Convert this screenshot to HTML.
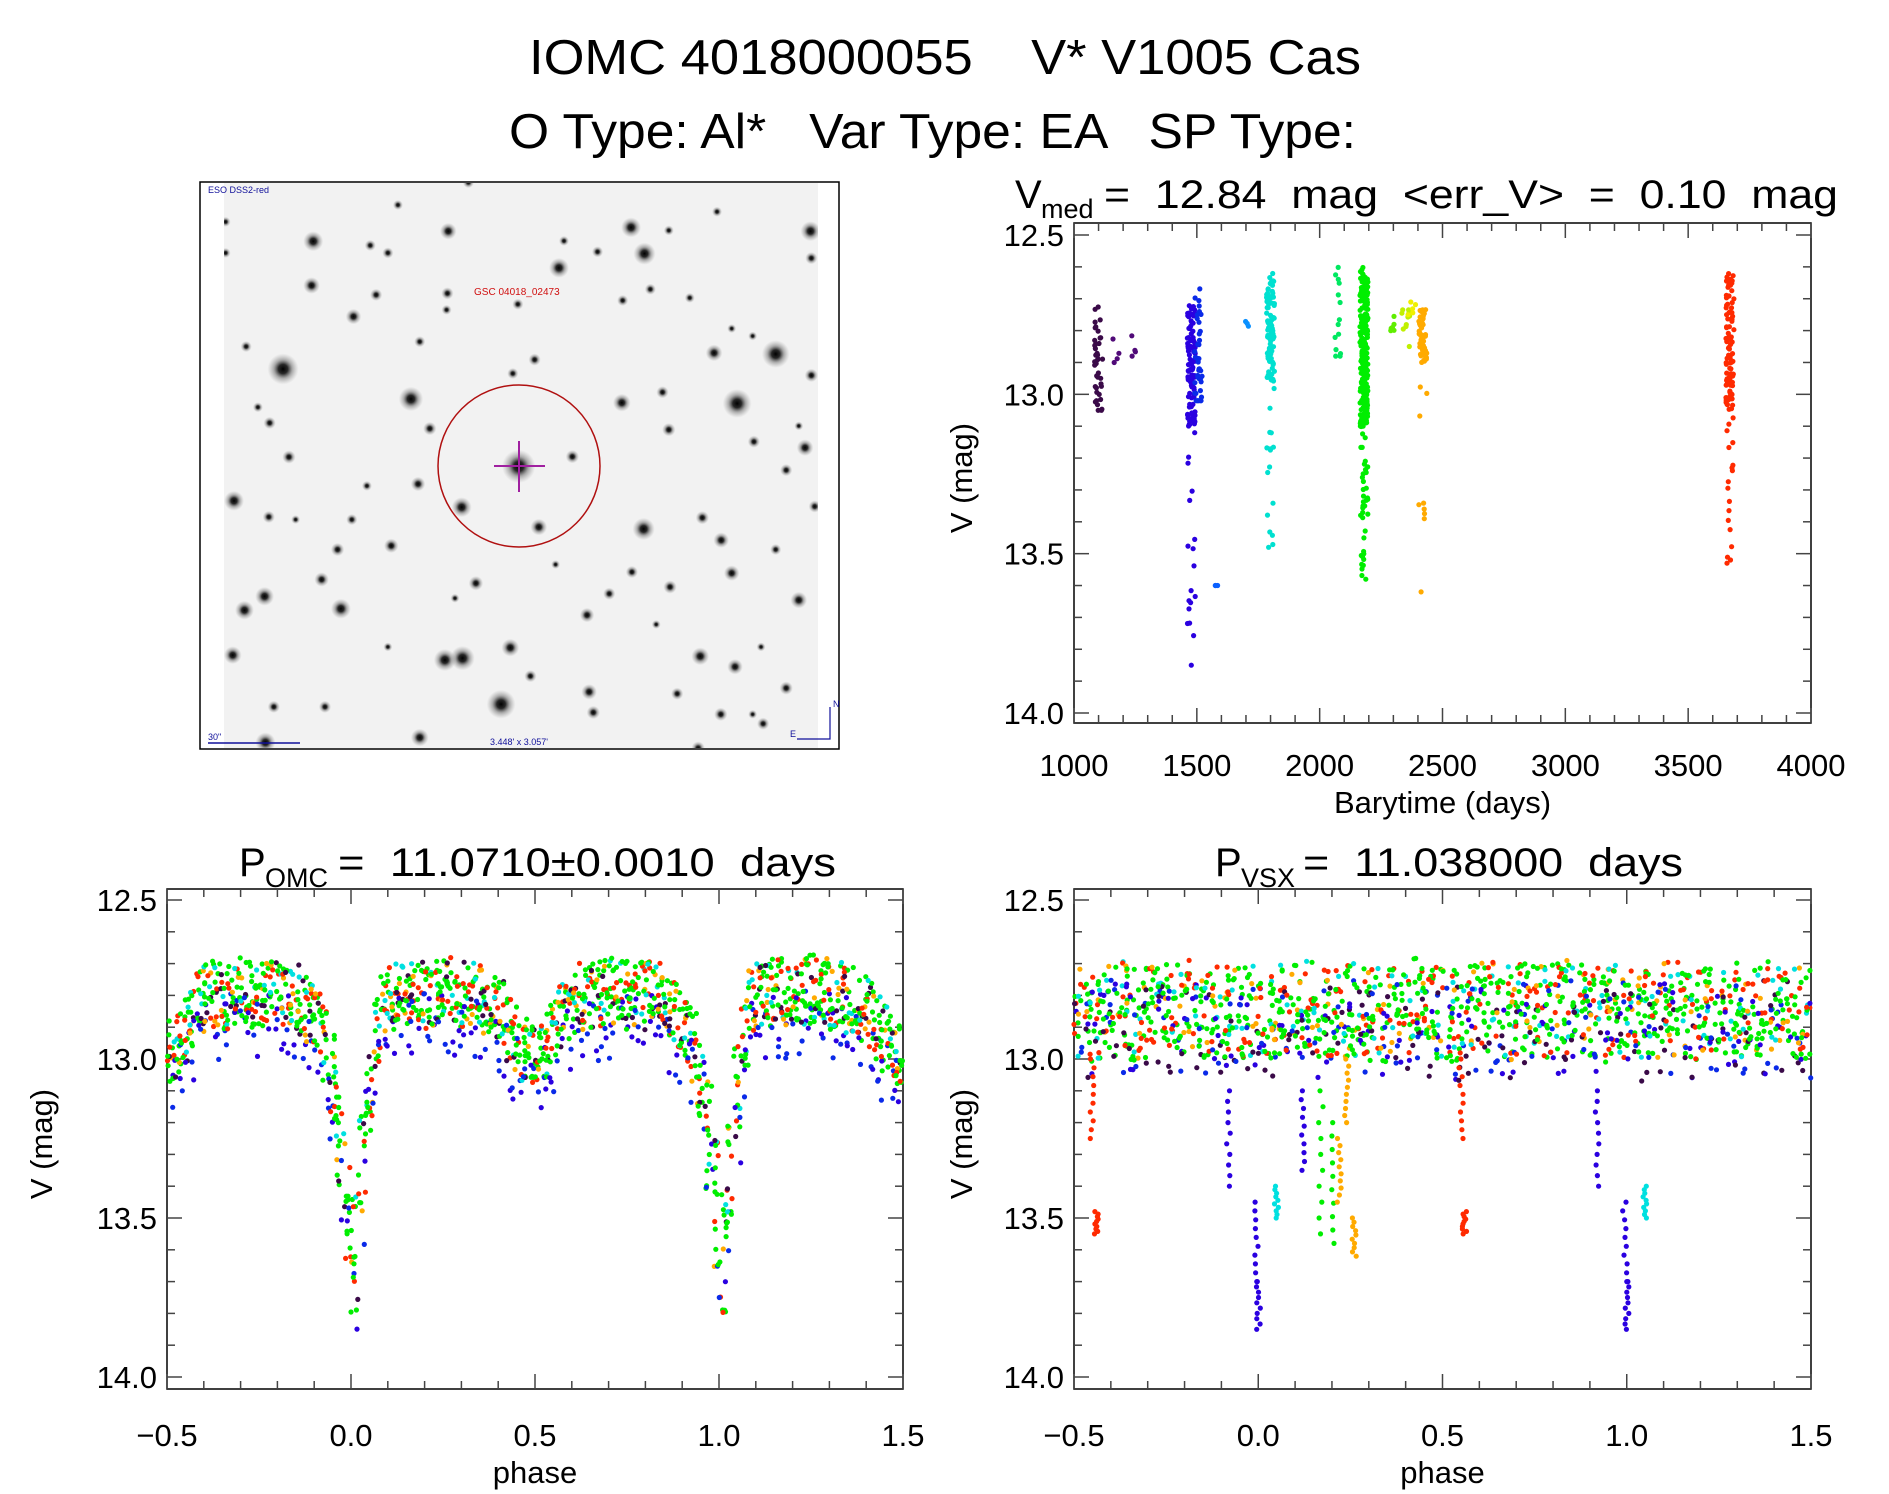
<!DOCTYPE html>
<html><head><meta charset="utf-8"><style>
html,body{margin:0;padding:0;background:#fff}
svg{display:block}
text{font-family:"Liberation Sans",sans-serif;fill:#000;white-space:pre}
</style></head><body>
<svg id="fig" width="1889" height="1494" viewBox="0 0 1889 1494" xmlns="http://www.w3.org/2000/svg" xml:space="preserve">
<defs>
<radialGradient id="starg"><stop offset="0" stop-color="#000" stop-opacity="1"/><stop offset="0.3" stop-color="#111" stop-opacity="0.9"/><stop offset="0.6" stop-color="#555" stop-opacity="0.45"/><stop offset="1" stop-color="#888" stop-opacity="0"/></radialGradient>
<clipPath id="skyclip"><rect x="224" y="183" width="594" height="565"/></clipPath>
</defs>
<rect width="1889" height="1494" fill="#fff"/>
<text x="529" y="74" font-size="49" textLength="832" lengthAdjust="spacingAndGlyphs">IOMC 4018000055    V* V1005 Cas</text>
<text x="509" y="148" font-size="49" textLength="847" lengthAdjust="spacingAndGlyphs">O Type: Al*   Var Type: EA   SP Type:</text>

<g id="sky">
<rect x="200" y="182" width="639" height="567" fill="#fff" stroke="#000" stroke-width="1.5"/>
<rect x="224" y="183" width="594" height="565" fill="#f2f2f2"/>
<g id="stars" clip-path="url(#skyclip)"></g>
<ellipse cx="519" cy="466" rx="81" ry="81" fill="none" stroke="#b01010" stroke-width="1.5"/>
<line x1="519" y1="441" x2="519" y2="492" stroke="#a020a0" stroke-width="2"/>
<line x1="494" y1="466" x2="545" y2="466" stroke="#a020a0" stroke-width="2"/>
<text x="208" y="193" font-size="9" style="fill:#10109a">ESO DSS2-red</text>
<text x="474" y="295" font-size="10" style="fill:#d01010">GSC 04018_02473</text>
<text x="208" y="740" font-size="9" style="fill:#10109a">30"</text>
<line x1="208" y1="743" x2="300" y2="743" stroke="#10109a" stroke-width="1.5"/>
<text x="490" y="745" font-size="9" style="fill:#10109a">3.448' x 3.057'</text>
<polyline points="797,739 830,739 830,707" fill="none" stroke="#10109a" stroke-width="1.2"/>
<text x="833" y="707" font-size="9" style="fill:#10109a">N</text>
<text x="790" y="737" font-size="9" style="fill:#10109a">E</text>
</g>

<g id="p1"></g>
<g id="p2"></g>
<g id="p3"></g>
</svg>
<script>
// ---- time series data (cluster summaries) ----
const clusterTime   = [1100, 1170, 1240, 1478, 1505, 1590, 1700, 1800, 2070, 2180, 2290, 2350, 2375, 2420, 3670];
const clusterTop    = [12.72, 12.82, 12.81, 12.72, 12.66, 13.60, 12.77, 12.62, 12.57, 12.60, 12.74, 12.73, 12.71, 12.73, 12.62];
const clusterDense  = [13.02, 12.90, 12.88, 13.10, 13.02, 13.60, 12.80, 12.96, 12.88, 13.10, 12.80, 12.80, 12.75, 12.90, 13.05];
const clusterBottom = [13.05, 12.90, 12.88, 13.85, 13.02, 13.65, 12.80, 13.48, 12.88, 13.58, 12.80, 12.85, 12.75, 13.62, 13.53];
const clusterCount  = [40, 4, 4, 120, 40, 3, 3, 110, 14, 260, 6, 10, 5, 60, 120];
const clusterColor  = ['#3a0a48','#500a78','#500a78','#2a00e0','#0a2ae8','#0a60ff','#0a90ff','#00e0d0','#00e860','#00ee00','#60ee00','#c0f000','#f0f000','#ffaa00','#ff2a00'];

// ---- OMC folded light curve (one cycle, phase bins) ----
const omcPhase = [0.00,0.02,0.04,0.06,0.08,0.10,0.12,0.14,0.16,0.18,0.20,0.22,0.24,0.26,0.28,0.30,0.32,0.34,0.36,0.38,0.40,0.42,0.44,0.46,0.48,0.50,0.52,0.54,0.56,0.58,0.60,0.62,0.64,0.66,0.68,0.70,0.72,0.74,0.76,0.78,0.80,0.82,0.84,0.86,0.88,0.90,0.92,0.94,0.96,0.98];
const omcMag   = [13.62,13.35,13.10,12.92,12.82,12.80,12.80,12.79,12.79,12.80,12.80,12.79,12.78,12.78,12.79,12.80,12.80,12.81,12.82,12.84,12.86,12.90,12.93,12.96,12.97,12.97,12.95,12.91,12.86,12.83,12.81,12.80,12.80,12.80,12.79,12.79,12.80,12.80,12.80,12.80,12.79,12.80,12.81,12.84,12.87,12.90,12.95,13.05,13.25,13.45];
const omcSpread= [0.22,0.20,0.16,0.12,0.12,0.12,0.12,0.12,0.12,0.12,0.12,0.12,0.12,0.12,0.12,0.12,0.12,0.12,0.12,0.12,0.12,0.12,0.12,0.12,0.12,0.12,0.12,0.12,0.12,0.12,0.12,0.12,0.12,0.12,0.12,0.12,0.12,0.12,0.12,0.12,0.12,0.12,0.12,0.12,0.12,0.12,0.14,0.16,0.20,0.24];

// ---- VSX folded baseline + eclipse streaks ----
const vsxPhase = [0.00,0.05,0.10,0.15,0.20,0.25,0.30,0.35,0.40,0.45,0.50,0.55,0.60,0.65,0.70,0.75,0.80,0.85,0.90,0.95];
const vsxMag   = [12.86,12.85,12.84,12.86,12.85,12.84,12.86,12.84,12.83,12.85,12.86,12.85,12.84,12.86,12.84,12.85,12.84,12.85,12.86,12.85];
const streakPhase = [0.55, 0.56, 0.995, 1.00, 1.05, 0.17, 0.20, 0.24, 0.26, 0.22, 0.12, 0.92];
const streakTop   = [13.00, 13.48, 13.45, 13.70, 13.40, 13.10, 13.20, 13.00, 13.50, 13.25, 13.10, 13.10];
const streakBot   = [13.25, 13.55, 13.70, 13.85, 13.50, 13.55, 13.58, 13.20, 13.62, 13.45, 13.35, 13.40];
const streakColor = ['#ff2a00','#ff2a00','#2a00e0','#2a00e0','#00e0e0','#00ee00','#00ee00','#ffaa00','#ffaa00','#ffaa00','#2a00e0','#2a00e0'];

const mainColors = ['#00ee00','#00ee00','#00ee00','#00ee00','#ff2a00','#2a00e0','#00e0e0','#ffaa00','#3a0a48','#00ee00','#ff2a00','#0a2ae8'];

const NS = 'http://www.w3.org/2000/svg';
function mk(parent, tag, attrs){ const e=document.createElementNS(NS,tag); for(const k in attrs) e.setAttribute(k,attrs[k]); parent.appendChild(e); return e; }
function h(i){ const s=Math.sin(i*12.9898+78.233)*43758.5453; return s-Math.floor(s); }

// ---- stars in sky image ----
const starsZ=[[210,518,28],[1385,478,25],[1293,610,26],[515,598,22],[772,778,30],[1072,210,20],[868,248,18],[1040,140,18],[604,150,15],[282,177,18],[278,295,15],[378,378,14],[1468,150,18],[1018,608,16],[1238,475,15],[1455,728,15],[93,870,18],[636,887,18],[820,940,15],[1070,945,20],[166,1125,17],[118,1162,17],[348,1158,18],[1440,1135,15],[730,1413,26],[596,1295,20],[638,1290,22],[752,1262,16],[90,1282,16],[536,1502,16],[168,1515,18],[940,1380,14],[1288,1313,14],[1205,1285,16],[1255,975,14],[1280,1063,14],[935,1175,13],[670,1090,13],[302,1080,13],[340,1000,12],[468,990,13],[532,825,13],[224,753,12],[178,662,11],[560,677,12],[900,752,12],[1133,1100,12],[1410,788,11],[1470,535,12],[1115,580,11],[1130,680,12],[1333,712,11],[810,493,11],[758,530,10],[536,445,10],[602,316,11],[432,320,11],[122,458,10],[1086,305,10],[1020,335,10],[770,345,10],[960,205,10],[1130,148,9],[418,188,10],[460,208,10],[484,80,9],[652,20,10],[1245,98,9],[1470,222,11],[1150,1385,11],[1410,1370,12],[1355,1465,11],[1254,1440,12],[950,1435,12],[800,1338,11],[988,1118,11],[1042,1060,11],[1210,915,12],[1478,885,11],[1385,1000,10],[176,913,11],[374,920,10],[310,1420,11],[188,1420,11],[73,125,9],[73,208,9],[1200,1530,12],[880,176,9],[1180,328,9],[150,620,9],[410,830,9],[600,360,9],[1280,410,8],[1330,430,8],[1440,670,8],[240,920,8],[1100,1200,8],[620,1130,8],[460,1260,8],[1350,1260,8],[1330,1440,8],[860,1040,8]];
const sg=document.getElementById('stars');
starsZ.forEach(s=>{
  const c=mk(sg,'circle',{cx:195+s[0]/2.385, cy:175+s[1]/2.67, r:s[2]/1.8, fill:'url(#starg)'});
  
  
});

// ---- generic axes ----
function axes(g, box, xr, yr, xMaj, xMin, yMaj, yMin, xfmt, yfmt, xlab, ylabY, ylabX){
  const sx=v=>box.x0+(v-xr[0])/(xr[1]-xr[0])*(box.x1-box.x0);
  const sy=v=>box.y0m+(v-yr[0])/(yr[1]-yr[0])*(box.y1m-box.y0m);
  const fr=mk(g,'rect',{x:box.x0,y:box.top,width:box.x1-box.x0,height:box.bot-box.top,fill:'none',stroke:'#000','stroke-width':1.5});
  
  
  const tg=mk(g,'g',{stroke:'#444','stroke-width':1.5});
  
  
  for(let v=xr[0]; v<=xr[1]+1e-9; v+=xMin){
    const maj=Math.abs(Math.round(v/xMaj)*xMaj-v)<1e-6; const L=maj?15:8; const x=sx(v);
    mk(tg,'line',{x1:x,y1:box.bot,x2:x,y2:box.bot-L}); mk(tg,'line',{x1:x,y1:box.top,x2:x,y2:box.top+L});
    if(maj){ const t=mk(g,'text',{x:x,y:box.xlabY,'font-size':31,'text-anchor':'middle'}); t.textContent=xfmt(v);
      
       }
  }
  for(let v=yr[0]; v<=yr[1]+1e-9; v+=yMin){
    const maj=Math.abs(Math.round(v/yMaj)*yMaj-v)<1e-6; const L=maj?15:8; const y=sy(v);
    mk(tg,'line',{x1:box.x0,y1:y,x2:box.x0+L,y2:y}); mk(tg,'line',{x1:box.x1,y1:y,x2:box.x1-L,y2:y});
    if(maj){ const t=mk(g,'text',{x:box.x0-10,y:y+11,'font-size':31,'text-anchor':'end'}); t.textContent=yfmt(v);
      
       }
  }
  const xl=mk(g,'text',{x:(box.x0+box.x1)/2,y:box.xtitleY,'font-size':31,'text-anchor':'middle'}); xl.textContent=xlab;
  
  
  const yl=mk(g,'text',{x:0,y:0,'font-size':31,'text-anchor':'middle',transform:`translate(${ylabX},${ylabY}) rotate(-90)`}); yl.textContent='V (mag)';
  
  
  return [sx,sy];
}
function dot(g,x,y,c){ const d=mk(g,'circle',{cx:x.toFixed(1),cy:y.toFixed(1),r:2.6,fill:c});
  
   }

// ---- plot 1: time series ----
(function(){
  const g=document.getElementById('p1');
  const box={x0:1074,x1:1811,top:223,bot:723,y0m:235,y1m:713,xlabY:776,xtitleY:813};
  const [sx,sy]=axes(g,box,[1000,4000],[12.5,14.0],500,100,0.5,0.1,v=>String(Math.round(v)),v=>v.toFixed(1),'Barytime (days)',478,972);
  const t=mk(g,'text',{x:1015,y:208,'font-size':40}); t.textContent='V';
   
  const s=mk(g,'text',{x:1041,y:218,'font-size':27}); s.textContent='med';
  const r=mk(g,'text',{x:1104,y:208,'font-size':40,textLength:734,lengthAdjust:'spacingAndGlyphs'}); r.textContent='=  12.84  mag  <err_V>  =  0.10  mag';
  const dg=mk(g,'g',{}); let k=0;
  clusterTime.forEach((tm,i)=>{
    const n=clusterCount[i]; const nd=Math.round(n*0.85);
    for(let j=0;j<n;j++){ k++;
      let m;
      if(j<nd) m=clusterTop[i]+(clusterDense[i]-clusterTop[i])*h(k);
      else m=clusterDense[i]+(clusterBottom[i]-clusterDense[i])*(j===n-1?1:h(k+500));
      dot(dg,sx(tm)+(h(k+999)-0.5)*8,sy(m),clusterColor[i]);
    }
  });
})();

// ---- plot 2: OMC phase ----
(function(){
  const g=document.getElementById('p2');
  const box={x0:167,x1:903,top:889,bot:1389,y0m:900,y1m:1377,xlabY:1446,xtitleY:1483};
  const [sx,sy]=axes(g,box,[-0.5,1.5],[12.5,14.0],0.5,0.1,0.5,0.1,v=>(Math.abs(v)<1e-9?0:v).toFixed(1).replace('-','\u2212'),v=>v.toFixed(1),'phase',1144,52);
  const t=mk(g,'text',{x:239,y:876,'font-size':40}); t.textContent='P';
   
  const s=mk(g,'text',{x:265,y:887,'font-size':27}); s.textContent='OMC';
  const r=mk(g,'text',{x:338,y:876,'font-size':40,textLength:498,lengthAdjust:'spacingAndGlyphs'}); r.textContent='=  11.0710\u00b10.0010  days';
  const dg=mk(g,'g',{}); let k=0;
  [-1,0,1].forEach(cyc=>{
    omcPhase.forEach((p,i)=>{
      for(let j=0;j<16;j++){ k++;
        const ph=p+cyc+h(k)*0.02; if(ph<-0.5||ph>1.5) continue;
        const c=mainColors[(j+i)%mainColors.length];
        let m=omcMag[i]+(h(k+300)-0.5)*2*omcSpread[i]*0.9;
        if(c==='#2a00e0'||c==='#0a2ae8') m+=0.1;
        dot(dg,sx(ph),sy(m),c);
      }
    });
  });
})();

// ---- plot 3: VSX phase ----
(function(){
  const g=document.getElementById('p3');
  const box={x0:1074,x1:1811,top:889,bot:1389,y0m:900,y1m:1377,xlabY:1446,xtitleY:1483};
  const [sx,sy]=axes(g,box,[-0.5,1.5],[12.5,14.0],0.5,0.1,0.5,0.1,v=>(Math.abs(v)<1e-9?0:v).toFixed(1).replace('-','\u2212'),v=>v.toFixed(1),'phase',1144,972);
  const t=mk(g,'text',{x:1215,y:876,'font-size':40}); t.textContent='P';
   
  const s=mk(g,'text',{x:1241,y:887,'font-size':27}); s.textContent='VSX';
  const r=mk(g,'text',{x:1303,y:876,'font-size':40,textLength:380,lengthAdjust:'spacingAndGlyphs'}); r.textContent='=  11.038000  days';
  const dg=mk(g,'g',{}); let k=5000;
  [-1,0,1].forEach(cyc=>{
    vsxPhase.forEach((p,i)=>{
      for(let j=0;j<38;j++){ k++;
        const ph=p+cyc+h(k)*0.05; if(ph<-0.5||ph>1.5) continue;
        const c=mainColors[(j*7+i)%mainColors.length];
        let m=vsxMag[i]+(h(k+300)-0.5)*0.3;
        if(c==='#2a00e0'||c==='#0a2ae8'||c==='#3a0a48') m+=0.06;
        dot(dg,sx(ph),sy(m),c);
      }
    });
    streakPhase.forEach((p,i)=>{
      for(let j=0;j<10;j++){ k++;
        const ph=p+cyc-1+(h(k)-0.5)*0.012; if(ph<-0.5||ph>1.5) continue;
        const m=streakTop[i]+(streakBot[i]-streakTop[i])*(j/9);
        dot(dg,sx(ph),sy(m),streakColor[i]);
      }
    });
  });
})();
</script>
</body></html>
